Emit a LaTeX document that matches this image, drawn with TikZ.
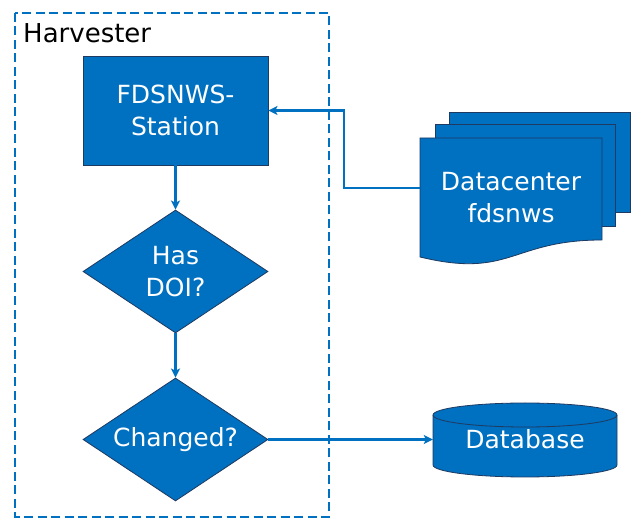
\documentclass[tikz,border=0pt]{standalone}
\usepackage{fontspec}
\setmainfont{DejaVu Sans}
\usetikzlibrary{shapes.geometric,arrows.meta}
\definecolor{fillblue}{HTML}{0070C0}
\definecolor{edgeblue}{HTML}{1F3A60}
\begin{document}
\begin{tikzpicture}[x=1pt,y=1pt,
  flowbox/.style={draw=edgeblue, line width=0.8pt, fill=fillblue, text=white,
    font=\fontsize{25}{31.5}\selectfont, align=center, inner sep=0pt},
  decision/.style={flowbox, diamond, minimum width=185pt, minimum height=123pt},
  shapefill/.style={fill=fillblue, draw=edgeblue, line width=0.8pt},
  plaintext/.style={text=white, font=\fontsize{25}{31.5}\selectfont, align=center, inner sep=0pt},
  conn/.style={draw=fillblue, line width=2.3pt, -{Stealth[length=9pt,width=9pt,inset=2pt]}}]
\useasboundingbox (0,0) rectangle (644,529);
% harvester frame
\draw[fillblue, line width=2.6pt, dash pattern=on 9pt off 4.5pt] (15,516) rectangle (329,12);
\node[anchor=base west, inner sep=0pt, font=\fontsize{26}{30}\selectfont] (hv) at (23,486) {Harvester};
% flow nodes
\node[flowbox, rectangle, minimum width=185pt, minimum height=109pt] (st) at (175.5,418.5) {FDSNWS-\\Station};
\node[decision] (doi) at (175.5,257.5) {\makebox[0pt]{Has}\\\makebox[0pt]{DOI?}};
\node[decision] (chg) at (175.5,89.5) {\raisebox{2pt}{\makebox[0pt]{Changed?}}};
% multi-document
\filldraw[shapefill] (449,417) rectangle (630,317);
\filldraw[shapefill] (435,405) rectangle (615,303);
\filldraw[shapefill] (420,391) -- (602,391) -- (602,289) .. controls (511,289) and (511,250) .. (420,272) -- cycle;
\node[plaintext, minimum width=182pt, minimum height=119pt] (dc) at (511,331.5) {Datacenter\\fdsnws};
% database cylinder
\filldraw[shapefill] (433,114) -- (433,64) arc[start angle=180, end angle=360, x radius=92pt, y radius=12pt]
  -- (617,114) arc[start angle=0, end angle=180, x radius=92pt, y radius=12pt] -- cycle;
\draw[edgeblue, line width=0.8pt] (433,114) arc[start angle=180, end angle=360, x radius=92pt, y radius=12pt];
\node[plaintext, minimum width=184pt, minimum height=74pt] (db) at (525,89.5) {\raisebox{-5pt}{Database}};
% connectors
\draw[conn] (st) -- (doi);
\draw[conn] (doi) -- (chg);
\draw[conn] (chg) -- (db);
\draw[conn] ([yshift=9.5pt]dc.west) -- ++(-76,0) |- (st.east);
\end{tikzpicture}
\end{document}
